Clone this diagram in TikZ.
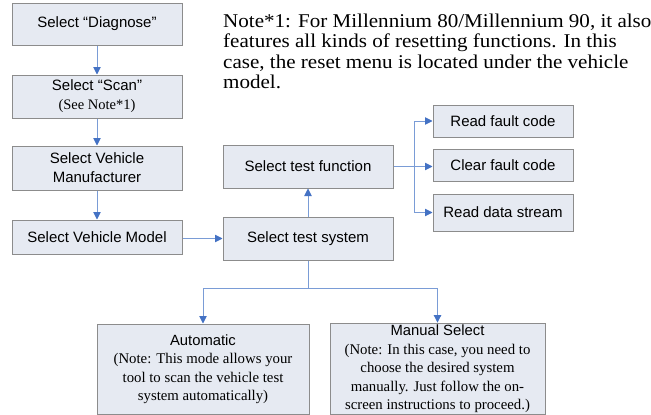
\documentclass[tikz,border=0pt]{standalone}
\usepackage{fontspec}
\setmainfont{Liberation Serif}
\setsansfont{Liberation Sans}
\newfontfamily\notefont[FakeStretch=1.08]{Liberation Serif}
\usetikzlibrary{
  arrows.meta,
  calc,
  positioning
}
\definecolor{boxfill}{HTML}{E6EAF2}
\definecolor{boxline}{HTML}{8C8C8C}
\definecolor{linkline}{HTML}{7A9CD6}
\definecolor{linkhead}{HTML}{4472C4}
\tikzset{
  box/.style = {draw=boxline, fill=boxfill, line width=1pt,
    minimum width=170pt, minimum height=42pt, inner sep=2pt, align=center,
    font=\sffamily\fontsize{15}{19}\selectfont},
  smallbox/.style = {box, minimum width=140pt, minimum height=32pt},
  widebox/.style = {box, minimum width=212pt, minimum height=90pt,
    font=\rmfamily\fontsize{14.8}{18.5}\selectfont},
  line/.style = {draw=linkline, line width=0.9pt},
  link/.style = {line, -{Triangle[length=7.5pt, width=7.5pt, color=linkhead]}},
}

\begin{document}
\begin{tikzpicture}[x=1pt, y=-1pt]
  \useasboundingbox (0,0) rectangle (651,415);
  % left column
  \node[box] (diag) at (97,24) {Select “Diagnose”};
  \node[box, below=29pt of diag, minimum height=43pt] (scan)
    {Select “Scan”\\{\rmfamily\fontsize{14.5}{18}\selectfont (See Note*1)}};
  \node[box, below=27pt of scan, minimum height=44pt] (maker)
    {Select Vehicle\\Manufacturer};
  \node[box, below=29pt of maker, minimum height=34pt] (model)
    {Select Vehicle Model};
  % middle
  \node[box, minimum height=43pt] (sys) at (308,238.5) {Select test system};
  \node[box, above=28pt of sys, minimum height=43pt] (func) {Select test function};
  % right
  \node[smallbox] (fault) at (503,121) {Read fault code};
  \node[smallbox] (clear) at (503,165) {Clear fault code};
  \node[smallbox, minimum height=37pt] (stream) at (503,212.5) {Read data stream};
  % bottom
  \node[widebox] (auto) at (203,369)
    {{\sffamily Automatic}\\(Note: This mode allows your\\tool to scan the vehicle test\\system automatically)};
  \node[widebox, minimum width=215pt] (manual) at (437.5,369)
    {{\sffamily Manual Select}\\(Note: In this case, you need to\\choose the desired system\\manually. Just follow the on-\\screen instructions to proceed.)};
  % note
  \node[anchor=north west, align=left, inner sep=0pt,
    font=\notefont\fontsize{19.5}{20.4}\selectfont] (note) at (223,13.5)
    {Note*1: For Millennium 80/Millennium 90, it also\\
     features all kinds of resetting functions. In this\\
     case, the reset menu is located under the vehicle\\
     model.};

  \draw[link] (diag) -- (scan);
  \draw[link] (scan) -- (maker);
  \draw[link] (maker) -- (model);
  \draw[link] (model.east |- sys) -- (sys);
  \draw[link] (sys) -- (func);

  \coordinate[right=21pt of func.east] (fork);
  \draw[link] (func.east) -- (clear.west |- func.east);
  \draw[link] (fork) |- (fault);
  \draw[link] (fork) |- (stream);

  \coordinate[below=28pt of sys.south] (split);
  \draw[line] (sys) -- (split);
  \draw[link] (split) -| (auto);
  \draw[link] (split) -| (manual);
\end{tikzpicture}
\end{document}
